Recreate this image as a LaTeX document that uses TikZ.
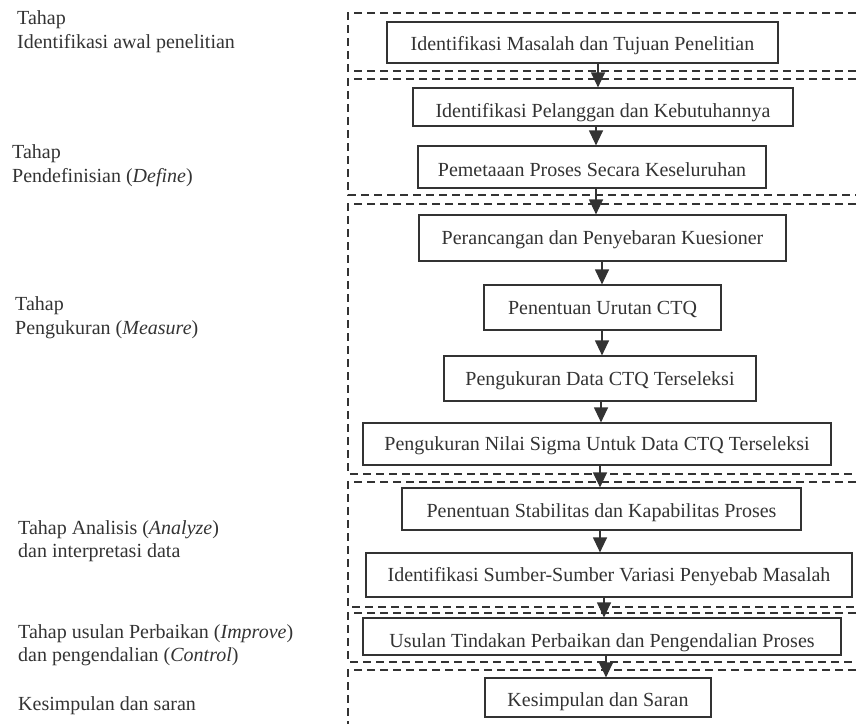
\documentclass[tikz,border=0pt]{standalone}
\usepackage{fontspec}
\setmainfont{Liberation Serif}
\usetikzlibrary{arrows.meta}
\definecolor{ink}{HTML}{333333}
\begin{document}
\begin{tikzpicture}[x=1pt,y=-1pt,
  every node/.style={text=ink},
  stepbox/.style={draw=ink,line width=1.2pt,inner sep=0pt,font=\fontsize{20}{24}\selectfont,text depth=0pt},
  lab/.style={anchor=base west,inner sep=0pt,align=left,font=\fontsize{20}{23.5}\selectfont},
  zone/.style={draw=ink,line width=1.2pt,dash pattern=on 8pt off 5pt},
  arr/.style={draw=ink,line width=1.2pt,-{Triangle[length=15pt,width=14pt]},shorten >=0pt}
]
\useasboundingbox (0,0) rectangle (858,724);

% dashed zones (open on the right)
\draw[zone] (856,13) -- (348,13) -- (348,71) -- (856,71);
\draw[zone] (856,79) -- (348,79) -- (348,195) -- (856,195);
\draw[zone] (856,204) -- (348,204) -- (348,474) -- (856,474);
\draw[zone] (856,482) -- (348,482) -- (348,607) -- (856,607);
\draw[zone] (856,613) -- (348,613) -- (348,662) -- (856,662);
\draw[zone] (856,670) -- (348,670) -- (348,724);

% process boxes
\node[stepbox,minimum width=391pt,minimum height=41pt,text height=16pt] (b1) at (582.5,42.5) {Identifikasi Masalah dan Tujuan Penelitian};
\node[stepbox,minimum width=380pt,minimum height=38pt,text height=20pt] (b2) at (603,107) {Identifikasi Pelanggan dan Kebutuhannya};
\node[stepbox,minimum width=348pt,minimum height=42pt,text height=19pt] (b3) at (592,167) {Pemetaaan Proses Secara Keseluruhan};
\node[stepbox,minimum width=367pt,minimum height=46pt,text height=13pt] (b4) at (602.5,238) {Perancangan dan Penyebaran Kuesioner};
\node[stepbox,minimum width=237pt,minimum height=45pt,text height=13pt] (b5) at (602.5,307.5) {Penentuan Urutan CTQ};
\node[stepbox,minimum width=312pt,minimum height=45pt,text height=13pt] (b6) at (600,378.5) {Pengukuran Data CTQ Terseleksi};
\node[stepbox,minimum width=468pt,minimum height=42pt,text height=13pt] (b7) at (597,444) {Pengukuran Nilai Sigma Untuk Data CTQ Terseleksi};
\node[stepbox,minimum width=399pt,minimum height=42pt,text height=16pt] (b8) at (601.5,509) {Penentuan Stabilitas dan Kapabilitas Proses};
\node[stepbox,minimum width=486pt,minimum height=44pt,text height=13pt] (b9) at (609,575) {Identifikasi Sumber-Sumber Variasi Penyebab Masalah};
\node[stepbox,minimum width=478pt,minimum height=37pt,text height=21pt] (b10) at (602,636.5) {Usulan Tindakan Perbaikan dan Pengendalian Proses};
\node[stepbox,minimum width=226pt,minimum height=39pt,text height=18pt] (b11) at (598,697.5) {Kesimpulan dan Saran};

% connectors
\draw[arr] (b1.south -| 598,0) -- (b2.north -| 598,0);
\draw[arr] (b2.south -| 596,0) -- (b3.north -| 596,0);
\draw[arr] (b3.south -| 596,0) -- (b4.north -| 596,0);
\draw[arr] (b4.south -| 602,0) -- (b5.north -| 602,0);
\draw[arr] (b5.south -| 602,0) -- (b6.north -| 602,0);
\draw[arr] (b6.south -| 601,0) -- (b7.north -| 601,0);
\draw[arr] (b7.south -| 600,0) -- (b8.north -| 600,0);
\draw[arr] (b8.south -| 600,0) -- (b9.north -| 600,0);
\draw[arr] (b9.south -| 604,0) -- (b10.north -| 604,0);
\draw[arr] (b10.south -| 606,0) -- (b11.north -| 606,0);

% stage labels (anchor at baseline of last line)
\node[lab] (l1) at (17,48) {Tahap\\Identifikasi awal penelitian};
\node[lab] (l2) at (12,182) {Tahap\\Pendefinisian (\textit{Define})};
\node[lab] (l3) at (15,334) {Tahap\\Pengukuran (\textit{Measure})};
\node[lab] (l4) at (18,557.5) {Tahap Analisis (\textit{Analyze})\\dan interpretasi data};
\node[lab] (l5) at (18,661.5) {Tahap usulan Perbaikan (\textit{Improve})\\dan pengendalian (\textit{Control})};
\node[lab] (l6) at (18,710.5) {Kesimpulan dan saran};
\end{tikzpicture}
\end{document}
